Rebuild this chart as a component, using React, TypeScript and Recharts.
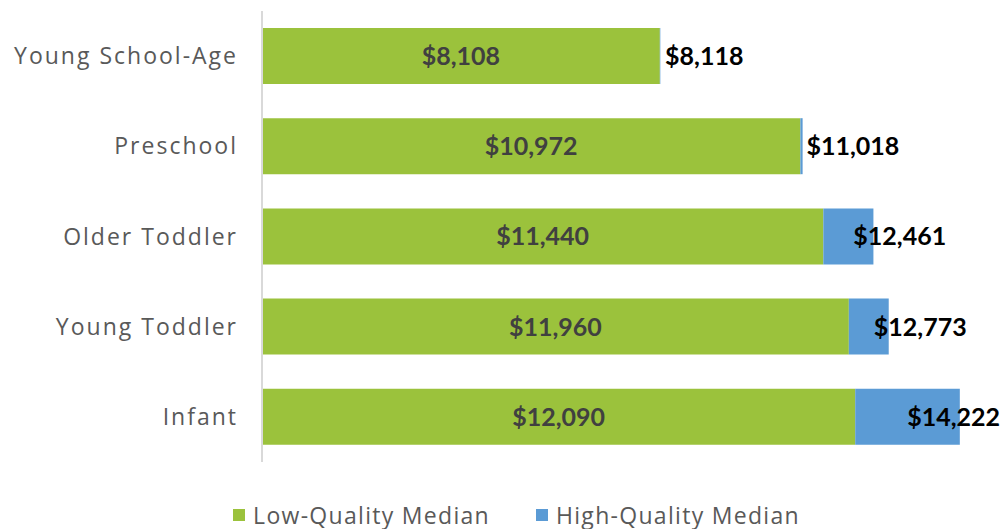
import { BarChart, Bar, XAxis, YAxis, Legend, LabelList } from 'recharts'

const categories = ['Young School-Age', 'Preschool', 'Older Toddler', 'Young Toddler', 'Infant']
const lowQualityMedian = [8108, 10972, 11440, 11960, 12090]
const highQualityMedian = [8118, 11018, 12461, 12773, 14222]

const GREEN = '#9BC23C'
const BLUE = '#5B9BD5'
const TEXT_FONT = '"Open Sans", Lato, sans-serif'
const NUM_FONT = 'Lato, "Open Sans", sans-serif'
const CHART_W = 1003

const fmt = (v: number) => '$' + v.toLocaleString('en-US')

const data = categories.map((name, i) => ({
  name,
  low: lowQualityMedian[i],
  diff: highQualityMedian[i] - lowQualityMedian[i],
  high: highQualityMedian[i],
}))

const CategoryTick = (props: any) => {
  const { x, y, payload } = props
  return (
    <text x={x - 16} y={y} dy={8} textAnchor="end" fill="#595959" fontSize={23} letterSpacing={2} fontFamily={TEXT_FONT}>
      {payload.value}
    </text>
  )
}

const LowLabel = (props: any) => {
  const { x, y, width, height, value } = props
  return (
    <text x={x + width / 2} y={y + height / 2} dy={9} textAnchor="middle" fill="#404040" fontSize={25} fontWeight="bold" fontFamily={NUM_FONT}>
      {fmt(value)}
    </text>
  )
}

const HighLabel = (props: any) => {
  const { x, y, width, height, index } = props
  const text = fmt(highQualityMedian[index])
  const approxW = (text.length - 1) * 14.5 + 7
  const start = x + width / 2 + 5
  const fits = start + approxW <= CHART_W - 3
  return (
    <text
      x={fits ? start : CHART_W - 3}
      y={y + height / 2}
      dy={9}
      textAnchor={fits ? 'start' : 'end'}
      fill="#000000"
      fontSize={25}
      fontWeight="bold"
      fontFamily={NUM_FONT}
    >
      {text}
    </text>
  )
}

const LegendContent = () => (
  <div style={{ display: 'flex', justifyContent: 'center', gap: 46, fontFamily: TEXT_FONT, fontSize: 23, letterSpacing: 1.3, color: '#595959', paddingLeft: 30 }}>
    {[
      { label: 'Low-Quality Median', color: GREEN },
      { label: 'High-Quality Median', color: BLUE },
    ].map((item) => (
      <div key={item.label} style={{ display: 'flex', alignItems: 'center' }}>
        <span style={{ display: 'inline-block', width: 12, height: 12, background: item.color, marginRight: 8 }} />
        <span>{item.label}</span>
      </div>
    ))}
  </div>
)

export default function App() {
  return (
    <div style={{ position: 'absolute', left: 0, top: 0, background: '#fff' }}>
      <BarChart
        width={CHART_W}
        height={529}
        data={data}
        layout="vertical"
        margin={{ top: 11, right: 5, bottom: 35, left: 0 }}
        barSize={56}
      >
        <XAxis type="number" domain={[0, 15000]} hide />
        <YAxis
          type="category"
          dataKey="name"
          width={262}
          axisLine={{ stroke: '#D9D9D9', strokeWidth: 2 }}
          tickLine={false}
          tick={<CategoryTick />}
        />
        <Legend
          verticalAlign="bottom"
          content={<LegendContent />}
          wrapperStyle={{ position: 'absolute', top: 499, left: 0, width: CHART_W }}
        />
        <Bar dataKey="low" stackId="a" fill={GREEN} isAnimationActive={false}>
          <LabelList dataKey="low" content={<LowLabel />} />
        </Bar>
        <Bar dataKey="diff" stackId="a" fill={BLUE} isAnimationActive={false}>
          <LabelList dataKey="diff" content={<HighLabel />} />
        </Bar>
      </BarChart>
    </div>
  )
}
